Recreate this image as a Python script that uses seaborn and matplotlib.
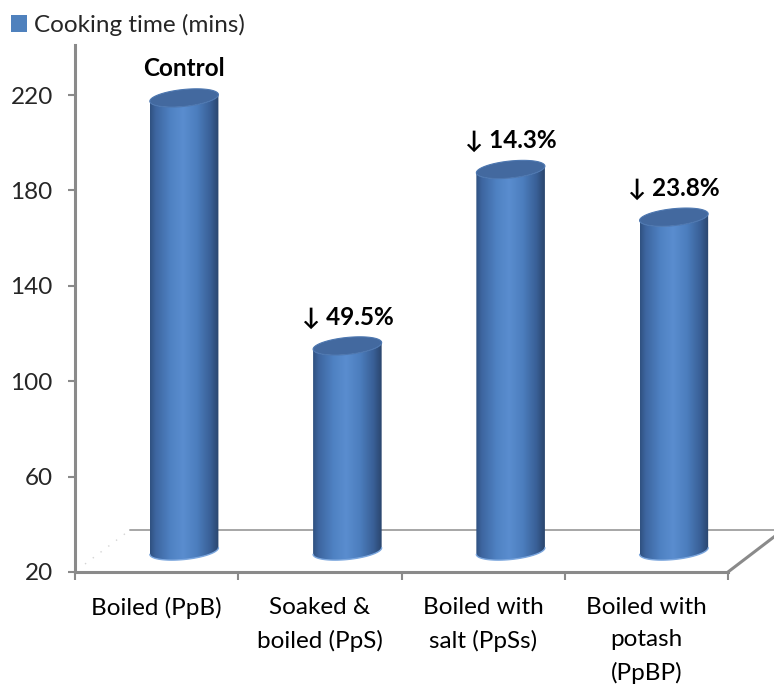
import numpy as np
import pandas as pd
import seaborn as sns
import matplotlib
matplotlib.use("Agg")
import matplotlib.pyplot as plt
from matplotlib.transforms import ScaledTranslation, IdentityTransform
from matplotlib.path import Path
from matplotlib.patches import PathPatch, Patch
from matplotlib.colors import LinearSegmentedColormap
from matplotlib.lines import Line2D

# ---- data -------------------------------------------------------------
categories = ["Boiled (PpB)", "Soaked &\nboiled (PpS)",
              "Boiled with\nsalt (PpSs)", "Boiled with\npotash\n(PpBP)"]
cooking_time = [210, 106, 180, 160]
bar_labels = ["Control", "\u2193 49.5%", "\u2193 14.3%", "\u2193 23.8%"]
y_ticks = [20, 60, 100, 140, 180, 220]
series_name = "Cooking time (mins)"

# ---- style ------------------------------------------------------------
sns.set_theme(style="white")
plt.rcParams["font.family"] = ["Lato", "DejaVu Sans"]
GRID = "#8a8a8a"
BLUE = "#4f81bd"
FS = 17.5

W, H, DPI = 774, 684, 100
fig = plt.figure(figsize=(W / DPI, H / DPI), dpi=DPI)
fig.patch.set_facecolor("white")
ax = fig.add_axes([75 / W, 112 / H, (728 - 75) / W, (572 - 45) / H])

df = pd.DataFrame({"treatment": categories, "time": cooking_time})
sns.barplot(data=df, x="treatment", y="time", width=0.42, color=BLUE,
            ax=ax, zorder=3)

ax.set_xlim(-0.5, len(categories) - 0.5)
ax.set_ylim(20, 241)
ax.set_xlabel("")
ax.set_ylabel("")
ax.set_yticks(y_ticks)
ax.set_yticklabels([str(t) for t in y_ticks], fontsize=FS)
ax.set_xticks(range(len(categories)))
ax.set_xticklabels(categories, fontsize=FS, linespacing=1.65)
ax.set_xticks(np.arange(-0.5, len(categories)), minor=True)
ax.tick_params(axis="x", which="major", length=0, pad=18, colors="black")
ax.tick_params(axis="x", which="minor", length=6, width=1.5,
               direction="out", color=GRID, bottom=True)
ax.tick_params(axis="y", which="major", length=5, width=1.5,
               direction="out", color=GRID, pad=11, left=True)
for side in ("top", "right"):
    ax.spines[side].set_visible(False)
for side in ("left", "bottom"):
    ax.spines[side].set_color(GRID)
    ax.spines[side].set_linewidth(2.2)
ax.patch.set_alpha(0)

# ---- 3-D floor --------------------------------------------------------
floor = ax.get_ylim()[0]
x_lo, x_hi = ax.get_xlim()
back = ax.transData + ScaledTranslation(0.55, 0.42, fig.dpi_scale_trans)
mid = ax.transData + ScaledTranslation(0.275, 0.21, fig.dpi_scale_trans)
ident = IdentityTransform()

ax.add_line(Line2D([x_lo, x_hi], [floor, floor], transform=back,
                   color="#a6a6a6", lw=1.4, clip_on=False, zorder=1))
ax.add_line(Line2D([x_hi - 0.05, x_hi], [floor, floor],
                   transform=back + ScaledTranslation(0, 0.025, fig.dpi_scale_trans),
                   color="#b0b0b0", lw=1.2, clip_on=False, zorder=1))
fx, fy = ax.transData.transform((x_hi, floor))
bx, bky = back.transform((x_hi, floor))
ax.add_line(Line2D([fx, bx], [fy, bky], transform=ident,
                   color=GRID, lw=2.2, clip_on=False, zorder=2))
lfx, lfy = ax.transData.transform((x_lo, floor))
lbx, lby = back.transform((x_lo, floor))
ax.add_line(Line2D([lfx + 10, lbx - 4], [lfy + 8, lby - 3], transform=ident,
                   color="#d4d4d4", lw=1.0, ls=(0, (1, 6)), clip_on=False, zorder=1))

# ---- cylinders --------------------------------------------------------
cyl = LinearSegmentedColormap.from_list(
    "cyl", [(0.0, "#2f5180"), (0.08, "#3d659f"), (0.3, "#4f82c3"),
            (0.48, "#5a8dcf"), (0.68, "#4c7ebe"), (0.88, "#395f96"),
            (1.0, "#2a456d")])
grad = np.linspace(0, 1, 256)[None, :]
tilt = np.tan(np.deg2rad(5.5))
eh = 8.5  # half height of the end caps, px


def cap(cx, cy, a, t):
    return np.column_stack([cx + a * np.cos(t),
                            cy + eh * np.sin(t) + a * np.cos(t) * tilt])


for patch, text in zip(list(ax.patches), bar_labels):
    x0, w, top = patch.get_x(), patch.get_width(), patch.get_height()
    patch.set_visible(False)
    lx, by = mid.transform((x0, floor))
    rx, ty = mid.transform((x0 + w, top))
    cx, a = (lx + rx) / 2, (rx - lx) / 2

    t_low = np.linspace(np.pi, 2 * np.pi, 60)
    body = np.vstack([cap(cx, ty, a, np.array([np.pi])),
                      cap(cx, by, a, t_low),
                      cap(cx, ty, a, t_low[::-1])])
    body_path = Path(np.vstack([body, body[:1]]), closed=True)
    clip = PathPatch(body_path, transform=ident)

    im = ax.imshow(grad, cmap=cyl, aspect="auto", interpolation="bilinear",
                   extent=(lx, rx, by - 2 * eh - 6, ty + 2 * eh + 6),
                   transform=ident, zorder=3)
    im.set_clip_path(clip)

    rim = cap(cx, by, a, t_low)
    ax.add_line(Line2D(rim[:, 0], rim[:, 1], transform=ident,
                       color="#7ca7de", lw=1.0, zorder=4))

    t_all = np.linspace(0, 2 * np.pi, 120)
    top_cap = cap(cx, ty, a, t_all)
    ax.add_patch(PathPatch(Path(top_cap, closed=True), transform=ident,
                           facecolor="#43699f", edgecolor="#4d77b0", lw=0.8,
                           zorder=5))

    ax.annotate(text, xy=(x0 + w / 2, top), xycoords=mid,
                xytext=(0, 15.5), textcoords="offset points",
                ha="center", va="baseline", fontsize=FS, fontweight="bold",
                color="black", zorder=6)

ax.set_xlim(x_lo, x_hi)
ax.set_ylim(20, 241)

# ---- legend -----------------------------------------------------------
fig.legend(handles=[Patch(facecolor=BLUE, edgecolor="none", label=series_name)],
           loc="upper left", bbox_to_anchor=(11 / W, 1 - 14 / H),
           frameon=False, fontsize=FS, handlelength=0.65, handleheight=0.65,
           handletextpad=0.3, borderpad=0, borderaxespad=0)

fig.savefig("out.png", dpi=DPI, facecolor="white")
